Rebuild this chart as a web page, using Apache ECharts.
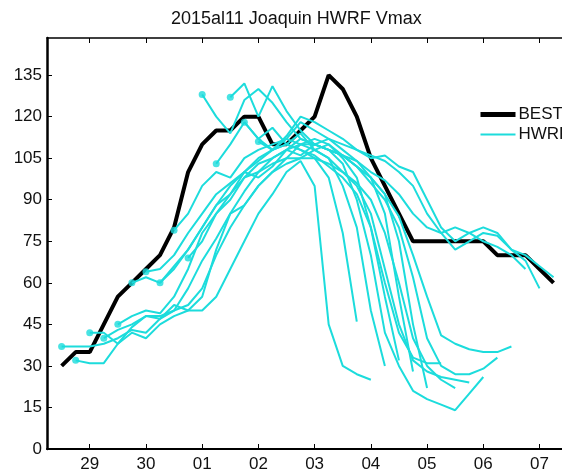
<!DOCTYPE html>
<html><head><meta charset="utf-8">
<script src="https://cdn.jsdelivr.net/npm/echarts@6/dist/echarts.min.js"></script>
<style>html,body{margin:0;padding:0;background:#fff}#c{width:562px;height:476px}</style>
</head><body><div id="c"></div>
<script>
const titleText = '2015al11 Joaquin HWRF Vmax';
const dayTicks = [29, 30, 31, 32, 33, 34, 35, 36, 37];
const dayLabels = ['29', '30', '01', '02', '03', '04', '05', '06', '07'];
const yTicks = [0, 15, 30, 45, 60, 75, 90, 105, 120, 135];
const stepDays = 0.25; // 6-hourly

const bestStart = 28.5;
const bestVmax = [30,35,35,45,55,60,65,70,80,100,110,115,115,120,120,110,110,115,120,135,130,120,105,95,85,75,75,75,75,75,75,70,70,70,65,60];

const hwrfStarts = [28.5, 28.75, 29.0, 29.25, 29.5, 29.75, 30.0, 30.25, 30.5, 30.75, 31.0, 31.25, 31.5, 31.75, 32.0];
const hwrf0 = [37,37,37,38,40,43,42,47,50,58,68,76,85,93,100,103,105,105,105,98,78,46];
const hwrf1 = [32,31,31,38,42,40,45,48,50,50,55,65,75,85,92,100,104,95,45,30,27,25];
const hwrf2 = [42,42,38,44,48,48,50,52,58,70,80,88,95,100,103,105,108,105,95,80,50,30];
const hwrf3 = [40,43,45,48,47,52,50,55,72,85,88,95,100,105,110,112,110,105,98,80,55,32];
const hwrf4 = [45,48,50,49,55,65,78,85,92,100,98,102,108,112,110,112,108,104,98,85,55,28];
const hwrf5 = [60,62,60,65,72,80,88,92,98,100,105,108,106,110,108,106,102,98,92,75,45,22];
const hwrf6 = [64,65,70,78,85,92,96,100,104,108,110,108,106,102,98,92,80,60,42,33,31,31];
const hwrf7 = [60,66,72,80,88,95,100,105,108,110,108,105,103,100,96,90,78,60,40,30,25,22];
const hwrf8 = [79,85,95,100,98,105,108,110,112,110,108,105,100,95,85,65,45,32,28,26,25,24];
const hwrf9 = [69,75,85,90,98,103,105,108,110,110,108,103,90,70,42,30,21,18,16,14,20,26];
const hwrf10 = [128,120,114,126,130,125,118,112,110,108,106,102,96,90,80,62,40,30,27,27,29,33];
const hwrf11 = [103,110,118,112,116,110,114,108,110,106,102,98,92,84,70,55,41,38,36,35,35,37];
const hwrf12 = [127,132,120,131,122,115,110,108,106,104,100,97,92,85,80,78,80,78,75,73,70,65];
const hwrf13 = [118,112,108,112,118,115,112,110,108,106,104,100,95,85,78,72,75,78,77,72,68,58];
const hwrf14 = [111,108,113,120,118,115,112,108,105,106,102,100,90,80,75,78,80,78,72,70,66,62];
const hwrfVmax = [hwrf0,hwrf1,hwrf2,hwrf3,hwrf4,hwrf5,hwrf6,hwrf7,hwrf8,hwrf9,hwrf10,hwrf11,hwrf12,hwrf13,hwrf14];

const cyan = '#1cdcdc';
const font = 'Liberation Sans, Arial, Helvetica, sans-serif';

const chart = echarts.init(document.getElementById('c'), null, {renderer: 'canvas'});
const series = [];
series.push({
  name: 'BEST', type: 'line', z: 2, symbol: 'none', animation: false,
  data: bestVmax.map((v, i) => [bestStart + i * stepDays, v]),
  lineStyle: {color: '#000', width: 4}, itemStyle: {color: '#000'}
});
hwrfStarts.forEach((s, k) => {
  series.push({
    name: 'HWRF', type: 'line', z: 3, symbol: 'none', animation: false,
    data: hwrfVmax[k].map((v, i) => [s + i * stepDays, v]),
    lineStyle: {color: cyan, width: 2}, itemStyle: {color: cyan}
  });
});
series.push({
  name: 'init', type: 'scatter', z: 4, animation: false, symbolSize: 7,
  data: hwrfStarts.map((s, k) => [s, hwrfVmax[k][0]]),
  itemStyle: {color: cyan}
});

const xLabelMap = {};
dayTicks.forEach((d, i) => { xLabelMap[d] = dayLabels[i]; });

chart.setOption({
  backgroundColor: '#fff',
  animation: false,
  title: {
    text: titleText, left: 166, top: 5,
    textStyle: {fontFamily: font, fontSize: 18, fontWeight: 'normal', color: '#111'}
  },
  legend: {
    data: [
      {name: 'BEST', lineStyle: {width: 5, color: '#000'}},
      {name: 'HWRF', lineStyle: {width: 2, color: cyan}}
    ],
    orient: 'vertical', left: 473, top: 101,
    itemWidth: 35, itemHeight: 14, itemGap: 3,
    itemStyle: {color: 'rgba(0,0,0,0)', borderColor: 'rgba(0,0,0,0)', borderWidth: 0},
    textStyle: {fontFamily: font, fontSize: 17, color: '#111', padding: [0, 0, 0, -2]}
  },
  grid: {left: 47, right: 0, top: 38, bottom: 27, containLabel: false},
  xAxis: [{
    type: 'value', min: 28.24, max: 37.4, position: 'bottom',
    axisLine: {show: true, lineStyle: {color: '#000', width: 2}},
    axisTick: {show: true, inside: true, length: 5, customValues: dayTicks, lineStyle: {color: '#000', width: 1}},
    axisLabel: {customValues: dayTicks, margin: 7, fontFamily: font, fontSize: 17, color: '#111',
      formatter: v => xLabelMap[Math.round(v)] || ''},
    splitLine: {show: false}
  }, {
    type: 'value', min: 28.24, max: 37.4, position: 'top',
    axisLine: {show: true, lineStyle: {color: '#000', width: 1.5}},
    axisTick: {show: true, inside: true, length: 5, customValues: dayTicks, lineStyle: {color: '#000', width: 1}},
    axisLabel: {show: false},
    splitLine: {show: false}
  }],
  yAxis: {
    type: 'value', min: 0, max: 148.4,
    axisLine: {show: true, lineStyle: {color: '#000', width: 2.5}},
    axisTick: {show: true, inside: true, length: 5, customValues: yTicks, lineStyle: {color: '#000', width: 1}},
    axisLabel: {customValues: yTicks, margin: 5, fontFamily: font, fontSize: 17, color: '#111'},
    splitLine: {show: false}
  },
  series: series
});
</script>
</body></html>
